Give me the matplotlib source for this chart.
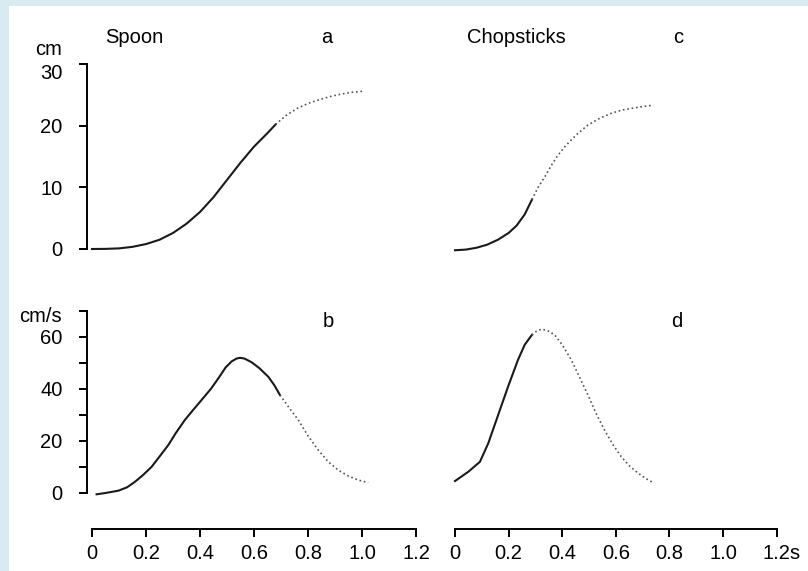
import numpy as np
import matplotlib
matplotlib.use("Agg")
import matplotlib.pyplot as plt
from matplotlib.patches import Rectangle

plt.rcParams['font.family'] = ['Liberation Sans', 'DejaVu Sans']

# spoon position (cm), solid part then dotted part
spoon_pos_t = [0, 0.05, 0.1, 0.15, 0.2, 0.25, 0.3, 0.35, 0.4, 0.45, 0.5, 0.55, 0.6, 0.65, 0.68]
spoon_pos = [0, 0.02, 0.1, 0.35, 0.8, 1.5, 2.6, 4.1, 6.0, 8.4, 11.2, 14.0, 16.6, 18.8, 20.2]
spoon_pos_t2 = [0.68, 0.72, 0.76, 0.8, 0.84, 0.88, 0.92, 0.96, 1.01]
spoon_pos2 = [20.2, 21.7, 22.8, 23.6, 24.2, 24.7, 25.1, 25.4, 25.6]

# chopsticks position (cm)
chop_pos_t = [0, 0.04, 0.08, 0.12, 0.16, 0.2, 0.23, 0.26, 0.287]
chop_pos = [-0.2, -0.1, 0.2, 0.7, 1.5, 2.6, 3.8, 5.6, 8.0]
chop_pos_t2 = [0.287, 0.31, 0.335, 0.36, 0.384, 0.41, 0.434, 0.46, 0.496, 0.54, 0.583, 0.62, 0.657, 0.7, 0.737]
chop_pos2 = [8.0, 10.0, 11.7, 13.6, 15.2, 16.6, 17.7, 18.8, 20.1, 21.2, 22.0, 22.5, 22.8, 23.1, 23.3]

# spoon velocity (cm/s)
spoon_vel_t = [0.017, 0.05, 0.098, 0.13, 0.159, 0.19, 0.221, 0.25, 0.283, 0.31, 0.344, 0.375, 0.406,
               0.44, 0.468, 0.495, 0.517, 0.535, 0.548, 0.565, 0.591, 0.62, 0.653, 0.675, 0.696]
spoon_vel = [-0.5, 0, 0.9, 2.2, 4.3, 7.0, 10.1, 14.0, 18.5, 23.0, 28.1, 32.0, 35.8,
             40.0, 44.1, 48.3, 50.6, 51.7, 52.0, 51.7, 50.3, 48.0, 44.7, 41.5, 37.7]
spoon_vel_t2 = [0.696, 0.73, 0.764, 0.8, 0.838, 0.875, 0.912, 0.95, 0.985, 1.023]
spoon_vel2 = [37.7, 32.8, 28.1, 22.0, 16.5, 12.0, 8.8, 6.5, 5.0, 4.0]

# chopsticks velocity (cm/s)
chop_vel_t = [0, 0.05, 0.093, 0.124, 0.161, 0.198, 0.235, 0.26, 0.287]
chop_vel = [4.6, 8.2, 12.0, 19.1, 30.0, 40.9, 51.2, 57.0, 60.8]
chop_vel_t2 = [0.287, 0.305, 0.322, 0.345, 0.372, 0.4, 0.434, 0.465, 0.496, 0.527, 0.558,
               0.59, 0.62, 0.65, 0.681, 0.71, 0.737]
chop_vel2 = [60.8, 62.3, 63.0, 62.5, 60.8, 57.0, 51.2, 44.5, 37.7, 30.5, 24.2,
             18.5, 14.0, 10.5, 7.8, 5.7, 4.1]

time_ticks = [0, 0.2, 0.4, 0.6, 0.8, 1.0, 1.2]
time_labels = ['0', '0.2', '0.4', '0.6', '0.8', '1.0', '1.2']

W, H = 808, 571
fig = plt.figure(figsize=(W / 100, H / 100), dpi=100)
fig.patch.set_facecolor('#d8ebf1')
fig.patches.append(Rectangle((9 / W, 0), 1, 1 - 6 / H, transform=fig.transFigure,
                             facecolor='white', edgecolor='none', zorder=-5))

FS = 14.5


def px(x, y):
    return x / W, 1 - y / H


def make_ax(left_px, top_px, bottom_px, scale=270, xmin0=5):
    # scale = pixels per second, xmin0 = pixels between the y spine and t=0
    width_px = 1.2 * scale + xmin0
    ax = fig.add_axes([left_px / W, 1 - bottom_px / H, width_px / W, (bottom_px - top_px) / H])
    ax.set_xlim(-xmin0 / scale, 1.2)
    ax.patch.set_alpha(0)
    for s in ['top', 'right']:
        ax.spines[s].set_visible(False)
    for s in ['left', 'bottom']:
        ax.spines[s].set_linewidth(1.4)
    ax.tick_params(width=1.4, length=5.6, labelsize=FS)
    return ax


solid = dict(color='#1a1a1a', lw=1.5, clip_on=False)
dotted = dict(color='#555555', lw=1.2, ls=':', clip_on=False)

# a: spoon position
ax_a = make_ax(87, 64, 249)
ax_a.set_ylim(0, 30)
ax_a.plot(spoon_pos_t, spoon_pos, **solid)
ax_a.plot(spoon_pos_t2, spoon_pos2, **dotted)
ax_a.spines['bottom'].set_visible(False)
ax_a.set_xticks([])
ax_a.set_yticks([0, 10, 20, 30])
ax_a.tick_params(axis='y', pad=12)
ax_a.get_yticklabels()[-1].set_va('top')

# c: chopsticks position
ax_c = make_ax(450, 64, 249, scale=268)
ax_c.set_ylim(0, 30)
ax_c.plot(chop_pos_t, chop_pos, **solid)
ax_c.plot(chop_pos_t2, chop_pos2, **dotted)
ax_c.spines['bottom'].set_visible(False)
ax_c.spines['left'].set_visible(False)
ax_c.set_xticks([])
ax_c.set_yticks([])

# b: spoon velocity
ax_b = make_ax(87, 311, 493)
ax_b.set_ylim(0, 70)
ax_b.plot(spoon_vel_t, spoon_vel, **solid)
ax_b.plot(spoon_vel_t2, spoon_vel2, **dotted)
ax_b.set_yticks(range(0, 71, 10))
ax_b.set_yticklabels(['0', '', '20', '', '40', '', '60', ''])
ax_b.tick_params(axis='y', pad=12)

# d: chopsticks velocity
ax_d = make_ax(450, 311, 493, scale=268)
ax_d.set_ylim(0, 70)
ax_d.plot(chop_vel_t, chop_vel, **solid)
ax_d.plot(chop_vel_t2, chop_vel2, **dotted)
ax_d.spines['left'].set_visible(False)
ax_d.set_yticks([])

for ax in [ax_b, ax_d]:
    ax.spines['bottom'].set_position(('outward', 26))
    ax.spines['bottom'].set_bounds(0, 1.2)
    ax.set_xticks(time_ticks)
    ax.set_xticklabels(time_labels)
    ax.tick_params(axis='x', pad=5)

# panel texts
fig.text(*px(62, 55), 'cm', ha='right', va='baseline', fontsize=FS)
fig.text(*px(62, 322), 'cm/s', ha='right', va='baseline', fontsize=FS)
fig.text(*px(105, 43), 'Spoon', ha='left', va='baseline', fontsize=FS)
fig.text(*px(327, 43), 'a', ha='center', va='baseline', fontsize=FS)
fig.text(*px(467, 43), 'Chopsticks', ha='left', va='baseline', fontsize=FS)
fig.text(*px(678, 43), 'c', ha='center', va='baseline', fontsize=FS)
fig.text(*px(328, 327), 'b', ha='center', va='baseline', fontsize=FS)
fig.text(*px(677, 327), 'd', ha='center', va='baseline', fontsize=FS)
fig.text(*px(789, 559), 's', ha='left', va='baseline', fontsize=FS)

fig.savefig('out.png', dpi=100, facecolor=fig.get_facecolor())
